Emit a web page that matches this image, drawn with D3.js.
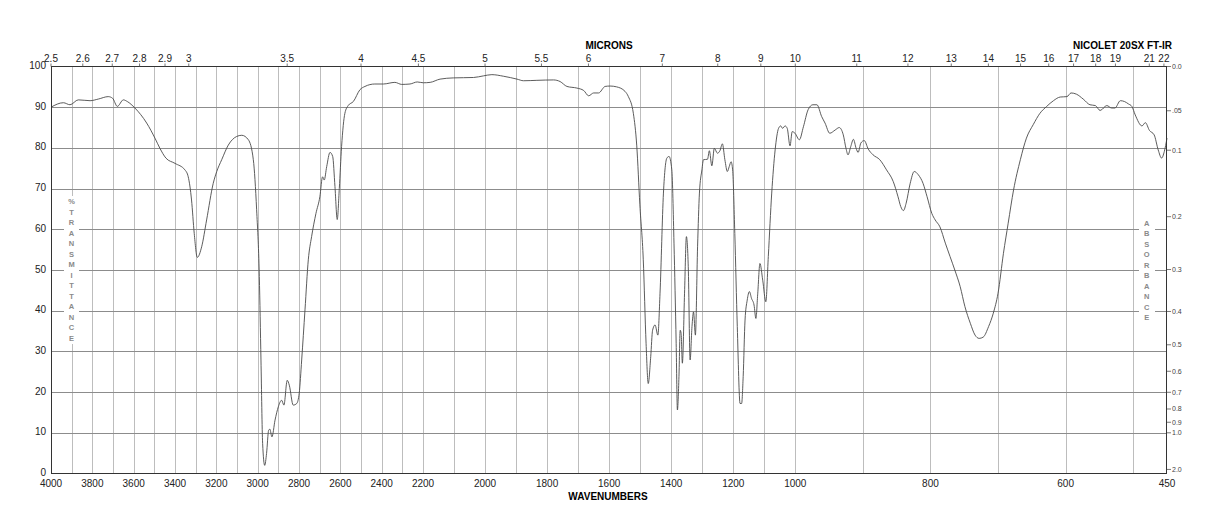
<!DOCTYPE html>
<html>
<head>
<meta charset="utf-8">
<script src="https://cdn.jsdelivr.net/npm/d3@7"></script>
<style>
  body { margin: 0; background: #fff; }
  svg { display: block; font-family: "Liberation Sans", Arial, Helvetica, sans-serif; }
</style>
</head>
<body>
<svg id="chart" width="1218" height="528"></svg>
<script>
// spectrum: wavenumber (cm-1) and % transmittance
var wavenumbers = [4000,3940,3908,3868,3811,3771,3723,3702,3679,3650,3631,3594,3537,3497,3473,3444,3400,3352,3336,3320,3307,3292,3271,3247,3215,3198,3174,3142,3102,3077,3045,3021,3005,2992,2984,2976,2966,2957,2947,2941,2931,2916,2900,2884,2873,2857,2847,2828,2811,2799,2787,2771,2755,2739,2718,2699,2686,2678,2666,2650,2637,2626,2615,2605,2594,2578,2562,2537,2505,2481,2433,2392,2336,2303,2263,2228,2199,2177,2145,2102,2037,2005,1978,1940,1897,1876,1833,1779,1758,1736,1704,1682,1666,1650,1634,1613,1597,1576,1549,1538,1522,1511,1501,1490,1481,1474,1466,1460,1452,1443,1436,1425,1414,1407,1398,1391,1384,1380,1375,1371,1368,1364,1357,1351,1345,1339,1333,1328,1322,1315,1309,1301,1296,1283,1277,1269,1261,1251,1243,1235,1227,1219,1213,1207,1202,1195,1187,1178,1173,1168,1162,1155,1148,1141,1133,1127,1121,1114,1105,1095,1087,1076,1065,1054,1047,1041,1033,1026,1017,1010,1001,994,988,981,974,968,961,956,949,941,935,929,925,922,918,914,910,907,903,898,892,885,875,865,855,848,844,840,836,830,824,818,811,805,798,793,786,778,771,764,756,749,741,734,728,722,714,707,700,692,685,677,667,658,648,638,628,618,608,598,592,584,574,564,556,549,539,532,527,519,513,507,502,497,487,482,476,469,463,458,454,450];
var transmittance = [90.0,91.1,90.6,91.8,91.6,92.0,92.6,92.2,90.2,91.8,91.4,89.8,86.1,82.4,79.9,77.5,76.2,74.6,72.9,67.2,59.0,53.1,55.7,62.3,71.3,74.2,77.1,80.7,82.8,83.1,82.0,77.1,64.8,48.4,27.9,7.4,2.0,4.9,10.6,10.9,9.0,13.1,16.4,18.0,16.8,22.9,21.7,16.8,17.2,19.7,27.9,40.2,52.5,58.2,63.9,68.0,72.9,72.1,75.4,78.9,77.9,70.5,62.4,70.0,80.3,88.5,90.4,91.4,94.3,95.1,95.7,95.7,96.1,95.6,95.7,96.2,96.0,96.1,96.9,97.2,97.3,97.7,98.0,97.6,96.9,96.5,96.6,96.7,96.3,95.1,94.7,94.1,92.8,93.5,93.5,95.1,95.2,95.0,93.9,92.6,88.5,80.5,66.0,52.5,32.0,22.1,28.7,35.2,36.5,34.0,44.3,68.9,77.5,77.9,74.6,56.6,32.0,15.6,23.8,35.2,34.4,27.1,44.3,58.2,50.8,27.9,36.1,39.7,34.0,55.7,68.9,74.6,77.1,77.2,79.3,75.6,79.9,78.7,79.3,81.0,77.1,74.2,75.4,76.6,74.6,59.0,36.1,17.2,17.2,23.8,37.7,42.6,44.7,43.0,41.4,38.1,44.3,51.6,47.5,42.2,53.3,68.9,79.5,84.8,85.4,84.8,85.4,84.8,80.5,84.0,83.6,82.0,85.2,89.4,90.6,90.6,87.7,86.1,83.6,84.4,85.0,83.2,79.9,78.3,80.3,82.1,79.9,78.9,81.2,81.8,79.7,78.3,77.1,74.6,71.7,68.0,65.6,64.6,66.4,71.3,74.2,73.4,71.3,68.0,63.9,62.3,60.6,56.6,53.3,50.0,45.9,41.0,36.9,34.0,33.2,33.5,36.1,39.4,44.3,54.1,61.5,69.7,77.1,82.4,85.7,88.5,90.2,91.6,92.5,92.6,93.5,93.2,92.0,90.6,90.4,89.2,90.4,89.8,89.8,91.6,91.4,90.8,90.2,88.1,85.4,86.2,84.3,83.2,79.5,77.5,79.1,82.4];

var transTicks = [0,10,20,30,40,50,60,70,80,90,100];
var wnLabels = [4000,3800,3600,3400,3200,3000,2800,2600,2400,2200,2000,1800,1600,1400,1200,1000,800,600,450];
var wnGrid = d3.range(3900, 499, -100);
var micronTicks = [2.5,2.6,2.7,2.8,2.9,3,3.5,4,4.5,5,5.5,6,7,8,9,10,11,12,13,14,15,16,17,18,19,21,22];
var absTicks = [0,0.05,0.1,0.2,0.3,0.4,0.5,0.6,0.7,0.8,0.9,1.0,2.0];
var absLabels = ["0.0",".05","0.1","0.2","0.3","0.4","0.5","0.6","0.7","0.8","0.9","1.0","2.0"];

var plotLeft = 51, plotRight = 1167, plotTop = 66.5, plotBottom = 473.5;

var svg = d3.select("#chart");

// piecewise x axis, three equal-width pieces
var x = d3.scaleLinear()
  .domain([4000, 2200, 1000, 450])
  .range([plotLeft, 423, 795.3, plotRight]);
var y = d3.scaleLinear().domain([0, 100]).range([plotBottom, plotTop]);

var grid = svg.append("g").attr("shape-rendering", "crispEdges");
grid.selectAll("line.v").data(wnGrid).enter().append("line")
  .attr("class", "v")
  .attr("x1", function(d) { return Math.round(x(d)) + 0.5; })
  .attr("x2", function(d) { return Math.round(x(d)) + 0.5; })
  .attr("y1", plotTop).attr("y2", plotBottom)
  .attr("stroke", "#bdbdbd").attr("stroke-width", 1);
grid.selectAll("line.h").data(transTicks.slice(1, -1)).enter().append("line")
  .attr("class", "h")
  .attr("x1", plotLeft).attr("x2", plotRight)
  .attr("y1", function(d) { return Math.round(y(d)) + 0.5; })
  .attr("y2", function(d) { return Math.round(y(d)) + 0.5; })
  .attr("stroke", "#8c8c8c").attr("stroke-width", 1);

// white boxes behind the side titles
svg.append("rect").attr("x", 64).attr("y", 196).attr("width", 15).attr("height", 148).attr("fill", "#fff");
svg.append("rect").attr("x", 1139).attr("y", 218).attr("width", 16).attr("height", 104).attr("fill", "#fff");

var sideText = function(str, cx, y0) {
  svg.append("g").selectAll("text").data(str.split("")).enter().append("text")
    .attr("x", cx)
    .attr("y", function(d, i) { return y0 + i * 10.5; })
    .attr("dy", "0.35em")
    .attr("text-anchor", "middle")
    .attr("font-size", "7.5px")
    .attr("font-weight", "bold")
    .attr("fill", "#8a8a8a")
    .text(function(d) { return d; });
};
sideText("%TRANSMITTANCE", 71.5, 201.7);
sideText("ABSORBANCE", 1146.7, 223.3);

// spectrum
var pts = wavenumbers.map(function(w, i) { return [w, transmittance[i]]; });
var line = d3.line()
  .x(function(d) { return x(d[0]); })
  .y(function(d) { return y(d[1]); })
  .curve(d3.curveMonotoneX);
svg.append("path").datum(pts)
  .attr("d", line)
  .attr("fill", "none")
  .attr("stroke", "#4a4a4a")
  .attr("stroke-width", 0.9);

// frame
svg.append("rect")
  .attr("x", plotLeft + 0.5).attr("y", plotTop)
  .attr("width", plotRight - plotLeft - 1).attr("height", plotBottom - plotTop)
  .attr("fill", "none").attr("stroke", "#333").attr("stroke-width", 1)
  .attr("shape-rendering", "crispEdges");

// left %T labels
svg.append("g").selectAll("text").data(transTicks).enter().append("text")
  .attr("x", 46)
  .attr("y", function(d) { return y(d) - 1; })
  .attr("dy", "0.35em")
  .attr("text-anchor", "end")
  .attr("font-size", "10px")
  .attr("fill", "#222")
  .text(function(d) { return d; });

// bottom wavenumber labels
svg.append("g").selectAll("text").data(wnLabels).enter().append("text")
  .attr("x", function(d) { return x(d); })
  .attr("y", 487)
  .attr("text-anchor", "middle")
  .attr("font-size", "10px")
  .attr("fill", "#222")
  .text(function(d) { return d; });

// top micron axis
var mg = svg.append("g");
mg.selectAll("line").data(micronTicks).enter().append("line")
  .attr("x1", function(d) { return x(10000 / d); })
  .attr("x2", function(d) { return x(10000 / d); })
  .attr("y1", plotTop - 3).attr("y2", plotTop)
  .attr("stroke", "#555").attr("stroke-width", 0.8);
mg.selectAll("text").data(micronTicks).enter().append("text")
  .attr("x", function(d) { return x(10000 / d); })
  .attr("y", 61.5)
  .attr("text-anchor", "middle")
  .attr("font-size", "10px")
  .attr("fill", "#222")
  .text(function(d) { return d; });

// right absorbance axis
var ag = svg.append("g");
ag.selectAll("line").data(absTicks).enter().append("line")
  .attr("x1", plotRight).attr("x2", plotRight + 4)
  .attr("y1", function(d) { return y(100 * Math.pow(10, -d)); })
  .attr("y2", function(d) { return y(100 * Math.pow(10, -d)); })
  .attr("stroke", "#555").attr("stroke-width", 0.8);
ag.selectAll("text").data(absTicks).enter().append("text")
  .attr("x", plotRight + 5)
  .attr("y", function(d) { return y(100 * Math.pow(10, -d)); })
  .attr("dy", "0.35em")
  .attr("font-size", "7px")
  .attr("fill", "#444")
  .text(function(d, i) { return absLabels[i]; });

// titles
svg.append("text").attr("x", 609).attr("y", 48.5)
  .attr("text-anchor", "middle").attr("font-size", "10px").attr("font-weight", "bold")
  .text("MICRONS");
svg.append("text").attr("x", 1172).attr("y", 48.5)
  .attr("text-anchor", "end").attr("font-size", "10px").attr("font-weight", "bold")
  .text("NICOLET 20SX FT-IR");
svg.append("text").attr("x", 608).attr("y", 499.5)
  .attr("text-anchor", "middle").attr("font-size", "10px").attr("font-weight", "bold")
  .text("WAVENUMBERS");
</script>
</body>
</html>
